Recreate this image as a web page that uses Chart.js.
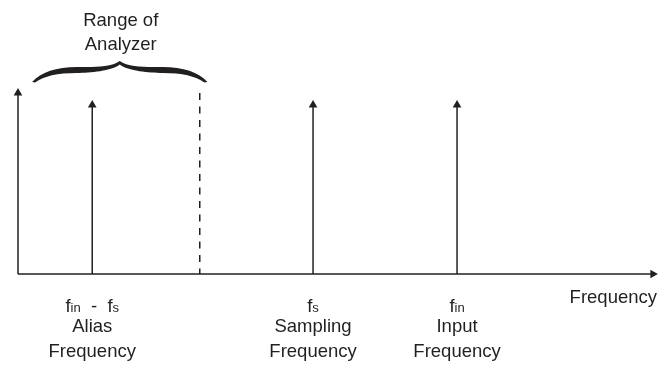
<!DOCTYPE html>
<html>
<head>
<meta charset="utf-8">
<script src="https://cdn.jsdelivr.net/npm/chart.js@4"></script>
<style>
  html, body { margin: 0; padding: 0; background: #ffffff; }
  canvas { display: block; }
</style>
</head>
<body>
<canvas id="c" width="668" height="368"></canvas>
<script>
// ---- data (conceptual frequency axis, 0..100 units; amplitude 0..100) ----
const categories = ['Alias Frequency', 'Sampling Frequency', 'Input Frequency'];
const symbols = ['f_{in}  -  f_{s}', 'f_{s}', 'f_{in}'];
const nameLines = [['Alias', 'Frequency'], ['Sampling', 'Frequency'], ['Input', 'Frequency']];
const freqPositions = [11.6, 46.1, 68.6];
const amplitudes = [90.9, 90.9, 90.9];
const nyquistPosition = 28.4;
const nyquistHeight = 97.3;
const rangeStart = 2.2;
const rangeEnd = 29.6;
const braceEndLevel = 103.2;
const braceArmLevel = 109.7;
const bracePeakLevel = 114.5;
const rangeLabel = ['Range of', 'Analyzer'];
const axisTitle = 'Frequency';
const xAxisEnd = 99.2;
const yAxisEnd = 97.3;

const INK = '#231f20';
const FONT = '"Liberation Sans", Arial, sans-serif';
const FS = 18.5;
const SUB = 13;
const HEAD = 5;

const datasets = [];
// axes as datasets with arrowheads
datasets.push({
  data: [{x: 0, y: 0}, {x: xAxisEnd, y: 0}],
  borderColor: INK, backgroundColor: INK, borderWidth: 1.5,
  pointRadius: [0, HEAD], pointStyle: 'triangle', pointRotation: 90,
  pointBorderWidth: 0, showLine: true, clip: false
});
datasets.push({
  data: [{x: 0, y: 0}, {x: 0, y: yAxisEnd}],
  borderColor: INK, backgroundColor: INK, borderWidth: 1.5,
  pointRadius: [0, HEAD], pointStyle: 'triangle', pointRotation: 0,
  pointBorderWidth: 0, showLine: true, clip: false
});
// spectral lines
freqPositions.forEach((f, i) => {
  datasets.push({
    label: categories[i],
    data: [{x: f, y: 0}, {x: f, y: amplitudes[i]}],
    borderColor: INK, backgroundColor: INK, borderWidth: 1.5,
    pointRadius: [0, HEAD], pointStyle: 'triangle',
    pointBorderWidth: 0, showLine: true, clip: false
  });
});
// Nyquist (dashed) boundary
datasets.push({
  data: [{x: nyquistPosition, y: nyquistHeight}, {x: nyquistPosition, y: 0}],
  borderColor: INK, borderWidth: 1.5, borderDash: [7, 6.5],
  pointRadius: 0, showLine: true, clip: false
});

function drawRich(ctx, str, cx, baseline, size, subSize) {
  const parts = [];
  const re = /_\{([^}]*)\}/g;
  let last = 0, m;
  while ((m = re.exec(str)) !== null) {
    if (m.index > last) parts.push({t: str.slice(last, m.index), s: size});
    parts.push({t: m[1], s: subSize});
    last = re.lastIndex;
  }
  if (last < str.length) parts.push({t: str.slice(last), s: size});
  let total = 0;
  parts.forEach(p => { ctx.font = p.s + 'px ' + FONT; p.w = ctx.measureText(p.t).width; total += p.w; });
  let x = cx - total / 2;
  ctx.textAlign = 'left';
  ctx.textBaseline = 'alphabetic';
  parts.forEach(p => { ctx.font = p.s + 'px ' + FONT; ctx.fillText(p.t, x, baseline); x += p.w; });
}

const annotate = {
  id: 'annotate',
  afterDraw(chart) {
    const ctx = chart.ctx;
    const xs = chart.scales.x, ys = chart.scales.y;
    ctx.save();
    ctx.fillStyle = INK;

    // brace
    const x0 = xs.getPixelForValue(rangeStart), x1 = xs.getPixelForValue(rangeEnd);
    const xm = (x0 + x1) / 2;
    const yE = ys.getPixelForValue(braceEndLevel);
    const yA = ys.getPixelForValue(braceArmLevel);
    const yP = ys.getPixelForValue(bracePeakLevel);
    const t = 3;
    ctx.beginPath();
    ctx.moveTo(x0, yE);
    ctx.bezierCurveTo(x0 + 9, yE - 10, x0 + 24, yA - t, x0 + 45, yA - t);
    ctx.bezierCurveTo(xm - 30, yA - t, xm - 9, yA - 2, xm, yP);
    ctx.bezierCurveTo(xm + 9, yA - 2, xm + 30, yA - t, x1 - 45, yA - t);
    ctx.bezierCurveTo(x1 - 24, yA - t, x1 - 9, yE - 10, x1, yE);
    ctx.lineTo(x1 - 3, yE + 0.5);
    ctx.bezierCurveTo(x1 - 12, yE - 6, x1 - 25, yA + t, x1 - 45, yA + t);
    ctx.bezierCurveTo(xm + 30, yA + t, xm + 8, yA + 1, xm, yP + 3.5);
    ctx.bezierCurveTo(xm - 8, yA + 1, xm - 30, yA + t, x0 + 45, yA + t);
    ctx.bezierCurveTo(x0 + 25, yA + t, x0 + 12, yE - 6, x0 + 3, yE + 0.5);
    ctx.closePath();
    ctx.fill();

    // range label
    ctx.font = FS + 'px ' + FONT;
    ctx.textAlign = 'center';
    ctx.textBaseline = 'alphabetic';
    ctx.fillText(rangeLabel[0], xm + 1, 26);
    ctx.fillText(rangeLabel[1], xm + 1, 50);

    // category labels
    const bottom = ys.getPixelForValue(0);
    freqPositions.forEach((f, i) => {
      const px = xs.getPixelForValue(f);
      drawRich(ctx, symbols[i], px, bottom + 38, FS, SUB);
      ctx.font = FS + 'px ' + FONT;
      ctx.textAlign = 'center';
      ctx.fillText(nameLines[i][0], px, bottom + 58);
      ctx.fillText(nameLines[i][1], px, bottom + 83);
    });

    // axis title
    ctx.font = FS + 'px ' + FONT;
    ctx.textAlign = 'right';
    ctx.fillText(axisTitle, xs.getPixelForValue(100) - 1, bottom + 29);
    ctx.restore();
  }
};

new Chart(document.getElementById('c'), {
  type: 'scatter',
  data: { datasets },
  options: {
    responsive: false,
    animation: false,
    layout: { padding: { left: 18, right: 10, top: 88, bottom: 94 } },
    scales: {
      x: { type: 'linear', min: 0, max: 100, display: false },
      y: { type: 'linear', min: 0, max: 100, display: false }
    },
    plugins: { legend: { display: false }, tooltip: { enabled: false } }
  },
  plugins: [annotate]
});
</script>
</body>
</html>
